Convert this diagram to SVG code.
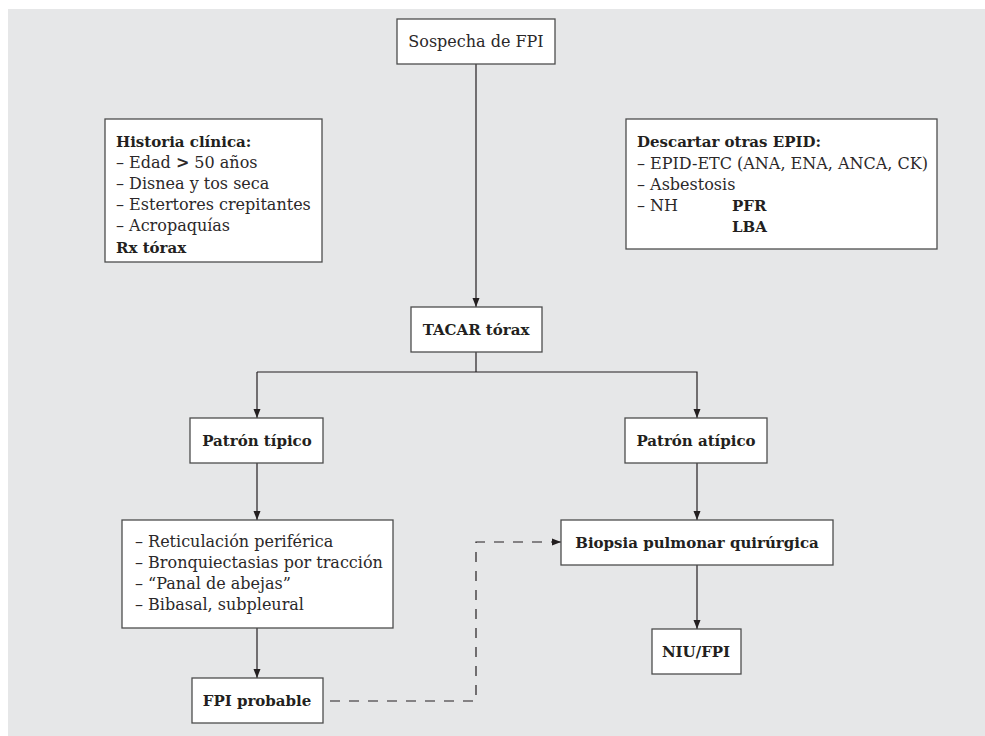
<svg xmlns="http://www.w3.org/2000/svg" width="985" height="736" viewBox="0 0 985 736">
<defs>
<style>
.bg{fill:#e6e7e8}
.box{fill:#fff;stroke:#4d4d4d;stroke-width:1.3}
.t{font-family:"DejaVu Serif","Liberation Serif",serif;font-size:16px;fill:#2b2829}
.b{font-family:"DejaVu Serif","Liberation Serif",serif;font-size:15px;font-weight:bold;fill:#231f20}
.c{text-anchor:middle}
.ln{fill:none;stroke:#231f20;stroke-width:1.2}
.dash{stroke-dasharray:10 9}
</style>
<marker id="ah" markerWidth="10" markerHeight="8" refX="9" refY="4" orient="auto" markerUnits="userSpaceOnUse">
<path d="M0,0.5 L9,4 L0,7.5 Z" fill="#231f20"/>
</marker>
</defs>
<rect x="0" y="0" width="985" height="736" fill="#fff"/>
<rect class="bg" x="8" y="9" width="977" height="727"/>

<g id="connectors">
<line class="ln" x1="476" y1="64" x2="476" y2="307" marker-end="url(#ah)"/>
<line class="ln" x1="476" y1="352" x2="476" y2="372"/>
<polyline class="ln" points="257,372 697,372 697,418" marker-end="url(#ah)"/>
<line class="ln" x1="257" y1="372" x2="257" y2="418" marker-end="url(#ah)"/>
<line class="ln" x1="257" y1="463" x2="257" y2="520" marker-end="url(#ah)"/>
<line class="ln" x1="257" y1="628" x2="257" y2="678" marker-end="url(#ah)"/>
<line class="ln" x1="697" y1="463" x2="697" y2="520" marker-end="url(#ah)"/>
<line class="ln" x1="697" y1="565" x2="697" y2="629" marker-end="url(#ah)"/>
<polyline class="ln dash" points="330,701 476,701 476,542 561,542" marker-end="url(#ah)"/>
</g>

<g id="sospecha">
<rect class="box" x="397" y="19" width="158" height="45"/>
<text class="t c" x="476" y="47">Sospecha de FPI</text>
</g>

<g id="historia">
<rect class="box" x="105" y="119" width="217" height="143"/>
<text class="b" x="116" y="147">Historia clínica:</text>
<text class="t" x="116" y="168">– Edad <tspan font-weight="bold">&gt;</tspan> 50 años</text>
<text class="t" x="116" y="189">– Disnea y tos seca</text>
<text class="t" x="116" y="210">– Estertores crepitantes</text>
<text class="t" x="116" y="231">– Acropaquías</text>
<text class="b" x="116" y="253">Rx tórax</text>
</g>

<g id="descartar">
<rect class="box" x="626" y="119" width="311" height="130"/>
<text class="b" x="637" y="147">Descartar otras EPID:</text>
<text class="t" x="637" y="169">– EPID-ETC (ANA, ENA, ANCA, CK)</text>
<text class="t" x="637" y="190">– Asbestosis</text>
<text class="t" x="637" y="211">– NH</text>
<text class="b" x="732" y="211">PFR</text>
<text class="b" x="732" y="232">LBA</text>
</g>

<g id="tacar">
<rect class="box" x="411" y="307" width="131" height="45"/>
<text class="b c" x="476" y="335">TACAR tórax</text>
</g>

<g id="tipico">
<rect class="box" x="190" y="418" width="133" height="45"/>
<text class="b c" x="257" y="446">Patrón típico</text>
</g>

<g id="atipico">
<rect class="box" x="625" y="418" width="142" height="45"/>
<text class="b c" x="696" y="446">Patrón atípico</text>
</g>

<g id="hallazgos">
<rect class="box" x="122" y="520" width="271" height="108"/>
<text class="t" x="135" y="547">– Reticulación periférica</text>
<text class="t" x="135" y="568">– Bronquiectasias por tracción</text>
<text class="t" x="135" y="589">– “Panal de abejas”</text>
<text class="t" x="135" y="610">– Bibasal, subpleural</text>
</g>

<g id="probable">
<rect class="box" x="192" y="678" width="131" height="45"/>
<text class="b c" x="257" y="706">FPI probable</text>
</g>

<g id="biopsia">
<rect class="box" x="561" y="520" width="272" height="45"/>
<text class="b c" x="697" y="548">Biopsia pulmonar quirúrgica</text>
</g>

<g id="niu">
<rect class="box" x="652" y="629" width="89" height="45"/>
<text class="b c" x="696" y="657">NIU/FPI</text>
</g>
</svg>
